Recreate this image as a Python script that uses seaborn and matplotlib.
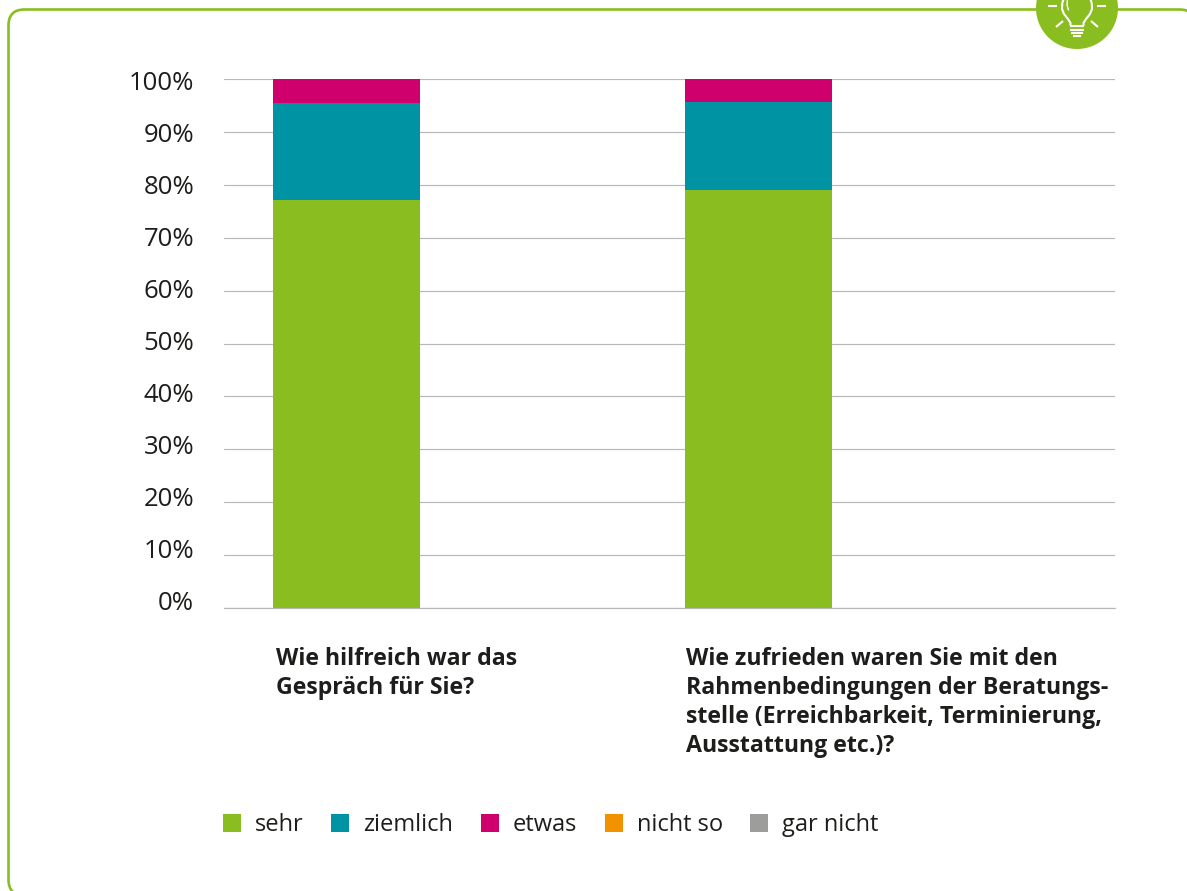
import matplotlib
matplotlib.use("Agg")
import matplotlib.pyplot as plt
import matplotlib.transforms as mtrans
from matplotlib.patches import FancyBboxPatch, Circle, Patch
import numpy as np
import pandas as pd
import seaborn as sns

categories = ["Wie hilfreich war das\nGespräch für Sie?",
              "Wie zufrieden waren Sie mit den\nRahmenbedingungen der Beratungs-\nstelle (Erreichbarkeit, Terminierung,\nAusstattung etc.)?"]
series_names = ["sehr", "ziemlich", "etwas", "nicht so", "gar nicht"]
sehr = [77.1, 79.0]
ziemlich = [18.3, 16.7]
etwas = [4.6, 4.3]
nicht_so = [0, 0]
gar_nicht = [0, 0]
colors = ["#8abd20", "#0093a3", "#cf006e", "#f39200", "#9d9d9c"]
y_ticks = list(range(0, 101, 10))

W, H = 1187, 891
sns.set_theme(style="white")
plt.rcParams["font.family"] = ["Open Sans", "DejaVu Sans"]
TXT = "#1d1d1b"
GREEN = "#8abd20"

fig = plt.figure(figsize=(W / 100, H / 100), dpi=100, facecolor="white")

# decoration layer, in pixel coordinates
bg = fig.add_axes([0, 0, 1, 1], zorder=0)
bg.set_xlim(0, W); bg.set_ylim(H, 0); bg.axis("off")
bg.add_patch(FancyBboxPatch((8.5, 9.5), 1187, 886, boxstyle="round,pad=0,rounding_size=16",
                            fc="white", ec=GREEN, lw=1.9))
bg.add_patch(Circle((1077, 8), 41, fc=GREEN, ec="none", zorder=3))
wh = dict(color="white", lw=1.5, zorder=4, solid_capstyle="butt")
bg.plot((1048, 1057), (6, 6), **wh)
bg.plot((1097, 1106), (6, 6), **wh)
bg.plot((1056, 1063), (27, 21), **wh)
bg.plot((1098, 1091), (27, 21), **wh)
bg.plot((1064, 1062.3, 1062, 1064, 1068, 1070.5, 1070.5), (-2, 3, 9, 14, 19, 23, 26), **wh)
bg.plot((1090, 1091.7, 1092, 1090, 1086, 1083.5, 1083.5), (-2, 3, 9, 14, 19, 23, 26), **wh)
bg.plot((1067.5, 1067, 1068.5), (-1, 5, 10), color="white", lw=1.0, zorder=4)
bg.plot((1070, 1084), (26, 26), **wh)
bg.plot((1070, 1084), (29.5, 29.5), **wh)
bg.plot((1071, 1083), (32.5, 32.5), **wh)
bg.plot((1073, 1081), (35.5, 35.5), **wh)

# chart
L, R, T, B = 224, 1115, 79, 608
ax = fig.add_axes([L / W, 1 - B / H, (R - L) / W, (B - T) / H], zorder=2)
ax.patch.set_alpha(0)

df = pd.DataFrame({"frage": categories, "sehr": sehr, "ziemlich": ziemlich,
                   "etwas": etwas, "nicht so": nicht_so, "gar nicht": gar_nicht})
bottom = np.zeros(len(categories))
for name, col in zip(series_names, colors):
    sns.barplot(data=df, x="frage", y=name, color=col, saturation=1, width=147 / 412,
                bottom=bottom, ax=ax, zorder=3, linewidth=0, errorbar=None)
    bottom = bottom + df[name].to_numpy()

ax.set_xlim((L - 346.5) / 412, 1 + (R - 758.5) / 412)
ax.set_ylim(0, 100)
ax.set_xlabel(""); ax.set_ylabel("")
ax.set_yticks(y_ticks)
ax.set_yticklabels([f"{v}%" for v in y_ticks])
ax.yaxis.grid(True, color="#b8b8b8", lw=0.85, zorder=0)
ax.xaxis.grid(False)
ax.set_axisbelow(True)
for s in ["top", "left", "right"]:
    ax.spines[s].set_visible(False)
ax.spines["bottom"].set_color("#b8b8b8")
ax.spines["bottom"].set_linewidth(0.85)
ax.spines["bottom"].set_zorder(1)
ax.tick_params(axis="y", length=0, pad=21.5, labelsize=18.5, labelcolor=TXT)
ax.tick_params(axis="x", length=0, pad=28, labelsize=16.7, labelcolor=TXT)

# the reference's y labels sit on a slightly tighter pitch than its grid
for lab, v in zip(ax.get_yticklabels(), y_ticks):
    dy = (7 - 0.09 * v) / 100
    lab.set_transform(lab.get_transform()
                      + mtrans.ScaledTranslation(0, dy, fig.dpi_scale_trans))

ax.set_xticks([0, 1])
ax.set_xticklabels(categories, fontweight="bold", linespacing=1.275)
for lab, dx in zip(ax.get_xticklabels(), (-70.5, -72.5)):
    lab.set_ha("left")
    lab.set_transform(lab.get_transform()
                      + mtrans.ScaledTranslation(dx / 100, 0, fig.dpi_scale_trans))

handles = [Patch(fc=c, ec="none", label=n) for n, c in zip(series_names, colors)]
em = 17 * 100 / 72
ax.legend(handles=handles, ncols=5, frameon=False, loc="upper left",
          bbox_to_anchor=(-0.001, -0.388), borderaxespad=0, borderpad=0,
          handlelength=18 / em, handleheight=18 / em, handletextpad=14 / em,
          columnspacing=27.5 / em, fontsize=17, labelcolor=TXT)

fig.savefig("out.png", dpi=100, facecolor="white")
